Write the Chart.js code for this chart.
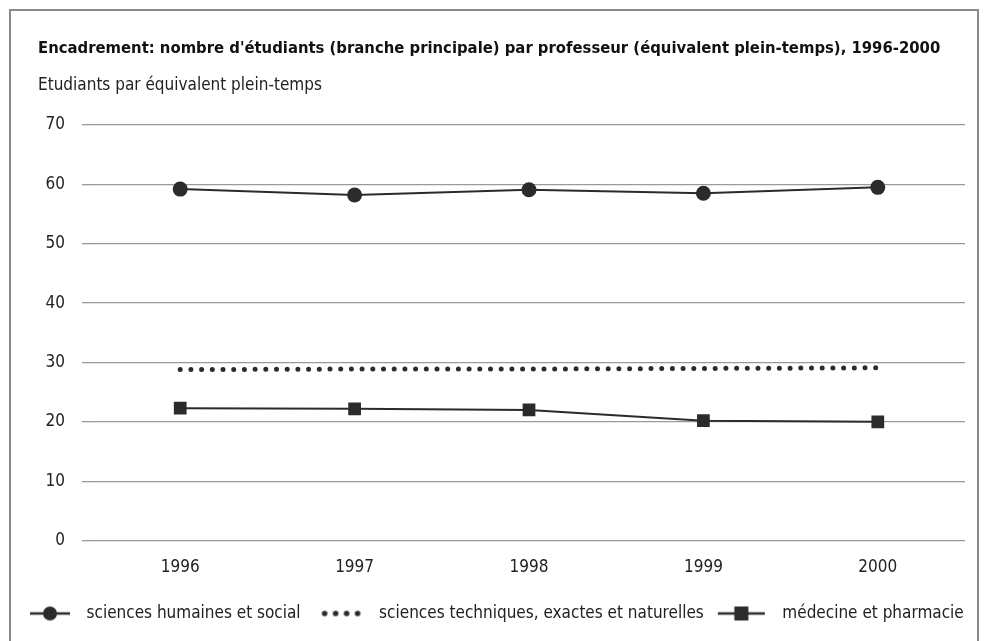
<!DOCTYPE html>
<html>
<head>
<meta charset="utf-8">
<script src="https://cdn.jsdelivr.net/npm/chart.js@4"></script>
<style>
  html, body { margin: 0; padding: 0; background: #fff; }
  #wrap { position: relative; width: 988px; height: 641px; overflow: hidden;
          font-family: 'DejaVu Sans Condensed', 'Roboto', sans-serif; }
  #frame { position: absolute; left: 9px; top: 9px; width: 970px; height: 700px;
           border: 2px solid #8a8a8a; box-sizing: border-box; }
  canvas { position: absolute; left: 0; top: 0; }
  .t { position: absolute; left: 38px; white-space: nowrap; line-height: 20px; }
  #title { top: 38px; font-size: 16.5px; font-weight: bold; color: #111; }
  #subtitle { top: 74px; font-size: 17px; color: #222; }
</style>
</head>
<body>
<div id="wrap">
  <div id="frame"></div>
  <canvas id="chart" width="988" height="641"></canvas>
  <div class="t" id="title">Encadrement: nombre d'étudiants (branche principale) par professeur (équivalent plein-temps), 1996-2000</div>
  <div class="t" id="subtitle">Etudiants par équivalent plein-temps</div>
</div>
<script>
// --- données ---
const years = ["1996", "1997", "1998", "1999", "2000"];
const humaines = [59.2, 58.2, 59.1, 58.5, 59.5];
const techniques = [28.8, 28.9, 28.9, 29.0, 29.1];
const medecine = [22.3, 22.2, 22.0, 20.2, 20.0];
const yTicks = [0, 10, 20, 30, 40, 50, 60, 70];

const FONT = "'DejaVu Sans Condensed', 'Roboto', sans-serif";
const INK = "#2b2b2b";

// petits dessins pour la légende (trait + symbole), 64 px de large
function legendIcon(kind) {
  const c = document.createElement("canvas");
  c.width = 64; c.height = 18;
  const g = c.getContext("2d");
  g.fillStyle = INK; g.strokeStyle = INK;
  if (kind === "dots") {
    [12, 23, 34, 45].forEach(x => {
      g.beginPath(); g.arc(x, 9, 2.8, 0, Math.PI * 2); g.fill();
    });
    return c;
  }
  g.lineWidth = 2.5;
  if (kind === "circle") {
    g.beginPath(); g.moveTo(10, 9); g.lineTo(50, 9); g.stroke();
    g.beginPath(); g.arc(30, 9, 7, 0, Math.PI * 2); g.fill();
  } else {
    g.beginPath(); g.moveTo(2, 9); g.lineTo(49, 9); g.stroke();
    g.fillRect(18.5, 2, 14, 14);
  }
  return c;
}
const icons = [legendIcon("circle"), legendIcon("dots"), legendIcon("rect")];

new Chart(document.querySelector("#chart"), {
  type: "line",
  data: {
    labels: years,
    datasets: [
      {
        label: "sciences humaines et social", data: humaines,
        borderColor: INK, backgroundColor: INK, borderWidth: 2,
        pointStyle: "circle", pointRadius: 7.5, pointBorderWidth: 0,
      },
      {
        label: "sciences techniques, exactes et naturelles", data: techniques,
        borderColor: INK, backgroundColor: INK, borderWidth: 5,
        borderDash: [0, 10.7], borderCapStyle: "round",
        pointRadius: 0,
      },
      {
        label: "médecine et pharmacie", data: medecine,
        borderColor: INK, backgroundColor: INK, borderWidth: 2,
        pointStyle: "rect", pointRadius: 9, pointBorderWidth: 0,
      },
    ],
  },
  options: {
    responsive: false,
    animation: false,
    layout: { padding: { left: 8, right: 0, top: 125, bottom: 9 } },
    plugins: {
      tooltip: { enabled: false },
      legend: {
        position: "bottom", align: "start",
        labels: {
          usePointStyle: true, pointStyleWidth: 52, boxHeight: 17,
          color: "#222", padding: 18,
          font: { family: FONT, size: 17 },
          generateLabels(chart) {
            const items = Chart.defaults.plugins.legend.labels.generateLabels(chart);
            items.forEach((it, i) => { it.pointStyle = icons[i]; });
            return items;
          },
        },
      },
    },
    scales: {
      x: {
        offset: true,
        grid: { display: false },
        border: { display: false },
        ticks: { color: "#222", font: { family: FONT, size: 17 }, padding: 9 },
      },
      y: {
        min: 0, max: 70,
        afterBuildTicks(axis) { axis.ticks = yTicks.map(v => ({ value: v })); },
        afterFit(axis) { axis.width = 85; },
        grid: { color: "#9a9a9a", lineWidth: 1.3, tickLength: 11, drawTicks: true, tickColor: "#9a9a9a" },
        border: { display: false },
        ticks: { color: "#222", font: { family: FONT, size: 17 }, padding: 17 },
      },
      // marge droite (vide) pour laisser toute la largeur à la légende
      y2: {
        position: "right",
        grid: { display: false },
        border: { display: false },
        ticks: { display: false },
        afterFit(axis) { axis.width = 23; },
      },
    },
  },
});
</script>
</body>
</html>
